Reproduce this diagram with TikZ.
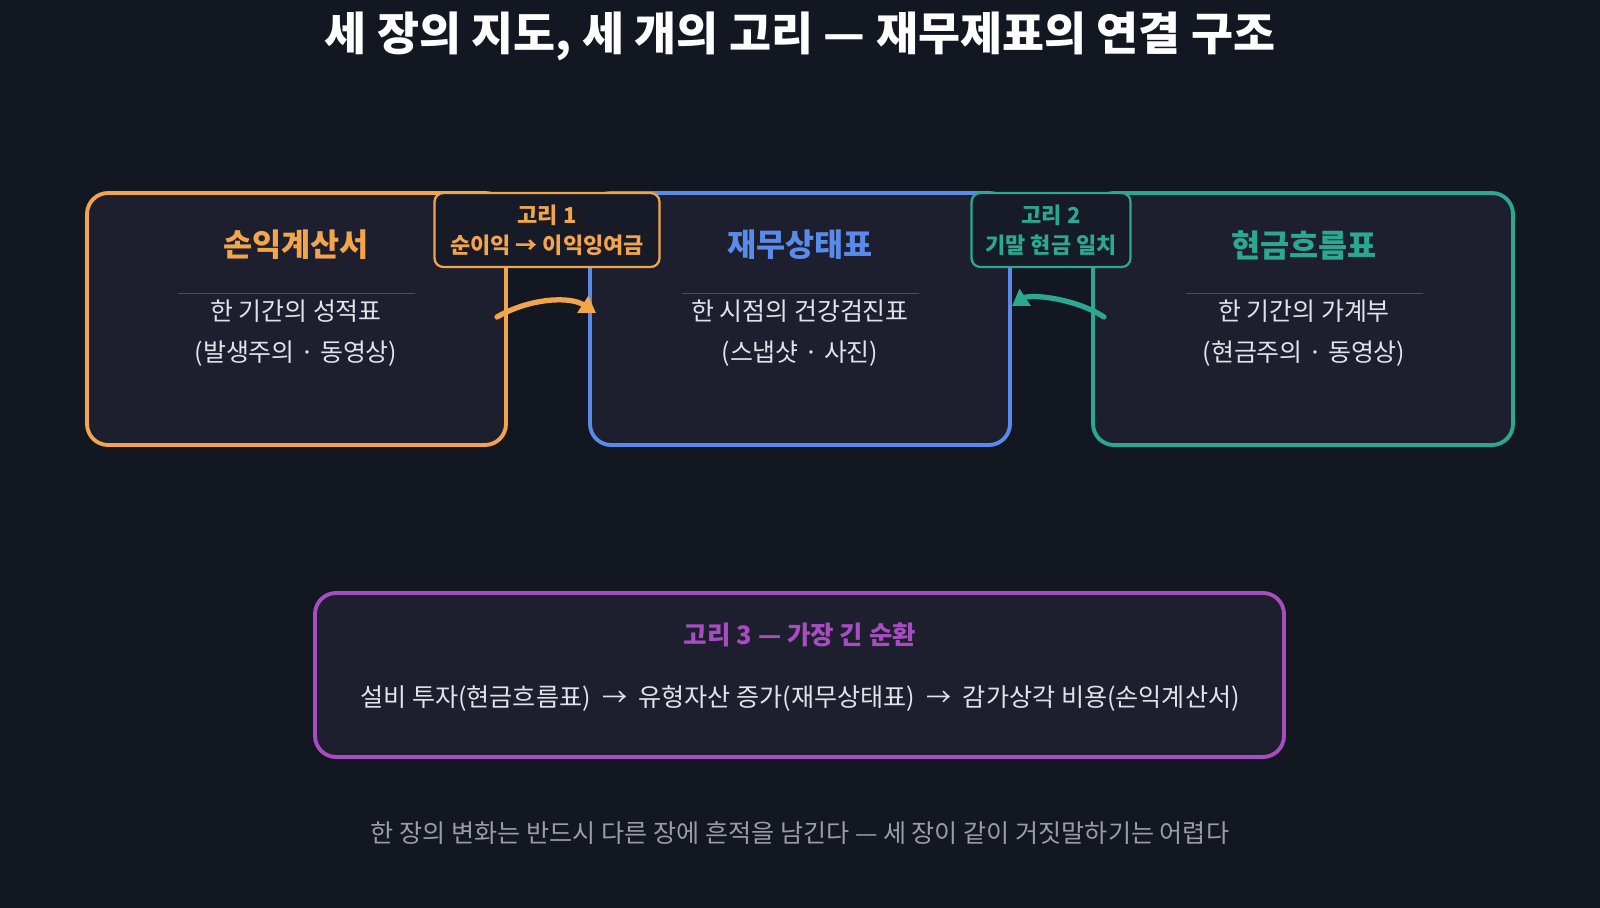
\documentclass[tikz,border=0pt]{standalone}
\usepackage{fontspec}
\setmainfont{Noto Sans CJK KR}
\usetikzlibrary{arrows.meta}
\definecolor{bgdark}{HTML}{131722}
\definecolor{boxfill}{HTML}{1E1F2E}
\definecolor{cOrange}{HTML}{F2A54A}
\definecolor{cBlue}{HTML}{5A8BEA}
\definecolor{cTeal}{HTML}{2AA892}
\definecolor{cPurple}{HTML}{A64DBF}
\definecolor{txtlight}{HTML}{E2E2E8}
\definecolor{txtgrey}{HTML}{9A9CA6}
\definecolor{rulegrey}{HTML}{4A4C5A}

\begin{document}
\begin{tikzpicture}[x=0.02cm, y=-0.02cm,
    sheet/.style={line width=2.2pt, fill=boxfill, rounded corners=12pt},
    linkbox/.style={line width=1.3pt, fill=bgdark!60!boxfill, rounded corners=5pt, align=center, font=\bfseries\fontsize{12.5}{17}\selectfont, inner sep=2pt, minimum height=1.48cm},
    sheettitle/.style={font=\bfseries\fontsize{18}{21}\selectfont},
    subtext/.style={text=txtlight, align=center, font=\fontsize{14.2}{23}\selectfont}]
    \fill[bgdark] (0,0) rectangle (1600,908);
    \node[text=white, font=\bfseries\fontsize{26}{30}\selectfont] (title) at (800,36) {세 장의 지도, 세 개의 고리 — 재무제표의 연결 구조};

    % three sheets
    \draw[sheet, draw=cOrange] (87,193) rectangle (506,445);
    \draw[sheet, draw=cBlue] (590,193) rectangle (1010,445);
    \draw[sheet, draw=cTeal] (1093,193) rectangle (1513,445);

    \node[sheettitle, text=cOrange] (is) at (296,245) {손익계산서};
    \node[sheettitle, text=cBlue] (bs) at (800,245) {재무상태표};
    \node[sheettitle, text=cTeal] (cf) at (1304,245) {현금흐름표};
    \draw[rulegrey] (178,293) -- (415,293);
    \draw[rulegrey] (682,293) -- (919,293);
    \draw[rulegrey] (1186,293) -- (1423,293);
    \node[subtext] (isText) at (296,333) {한 기간의 성적표\\(발생주의 · 동영상)};
    \node[subtext] (bsText) at (800,333) {한 시점의 건강검진표\\(스냅샷 · 사진)};
    \node[subtext] (cfText) at (1304,333) {한 기간의 가계부\\(현금주의 · 동영상)};

    % links
    \node[linkbox, draw=cOrange, text=cOrange, minimum width=4.5cm] (link1) at (547,230) {고리 1\\순이익 → 이익잉여금};
    \node[linkbox, draw=cTeal, text=cTeal, minimum width=3.18cm] (link2) at (1051,230) {고리 2\\기말 현금 일치};
    \coordinate (a1s) at (497,317);
    \coordinate (a1e) at (596,313);
    \coordinate (a2s) at (1104,317);
    \coordinate (a2e) at (1012,306);
    \draw[cOrange, line width=3pt, line cap=round, -{Triangle[length=9pt,width=11pt]}] (a1s) .. controls (530,298) and (570,296) .. (a1e);
    \draw[cTeal, line width=3pt, line cap=round, -{Triangle[length=9pt,width=11pt]}] (a2s) .. controls (1075,298) and (1030,294) .. (a2e);

    % third link
    \draw[sheet, draw=cPurple] (315,593) rectangle (1284,757);
    \node[text=cPurple, font=\bfseries\fontsize{14.5}{17}\selectfont] (link3) at (800,635) {고리 3 — 가장 긴 순환};
    \node[text=txtlight, font=\fontsize{14.3}{17}\selectfont] (cycle) at (800,698) {설비 투자(현금흐름표) \ → \ 유형자산 증가(재무상태표) \ → \ 감가상각 비용(손익계산서)};

    \node[text=txtgrey, font=\fontsize{14.3}{17}\selectfont] (note) at (800,833) {한 장의 변화는 반드시 다른 장에 흔적을 남긴다 — 세 장이 같이 거짓말하기는 어렵다};
\end{tikzpicture}
\end{document}
